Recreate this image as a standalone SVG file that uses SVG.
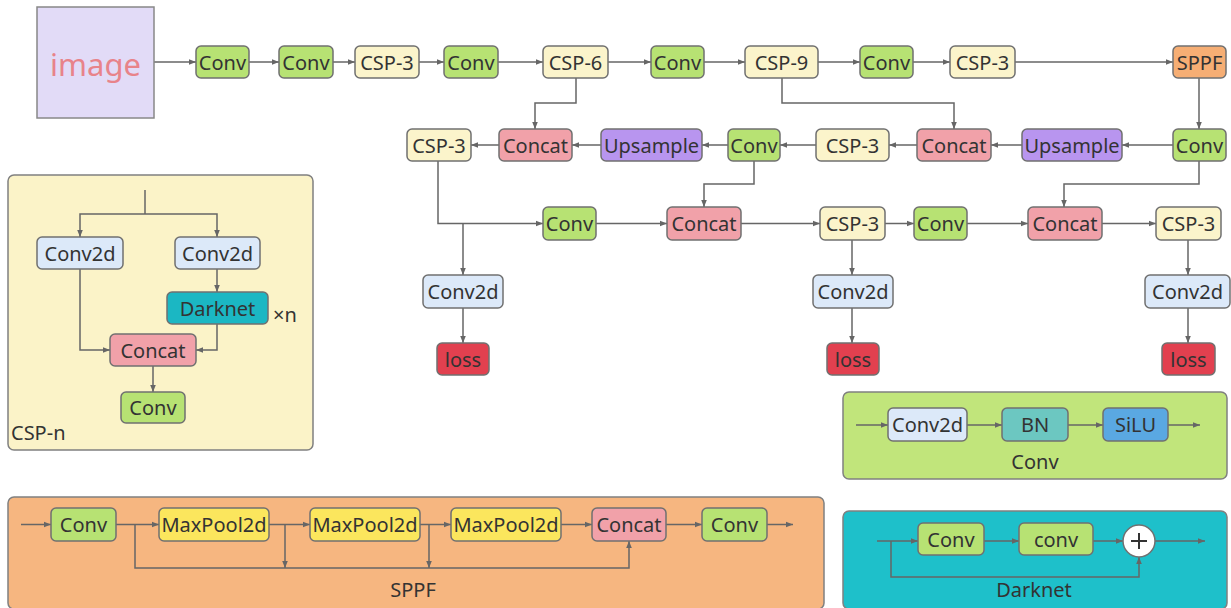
<svg xmlns="http://www.w3.org/2000/svg" width="1231" height="608" viewBox="0 0 1231 608">
  <defs>
    <marker id="arr" viewBox="0 0 10 10" refX="10" refY="5" markerWidth="7" markerHeight="7" markerUnits="userSpaceOnUse" orient="auto">
      <path d="M0,1 L10,5 L0,9 z" fill="#666"/>
    </marker>
    <style>
      .n rect { stroke: #707070; stroke-width: 1.5; }
      .t { font-family: "Noto Sans", "Open Sans", sans-serif; font-size: 20px; fill: #333; text-anchor: middle; dominant-baseline: central; }
      .lbl { font-family: "Noto Sans", "Open Sans", sans-serif; font-size: 20px; fill: #333; }
      .conv { fill: #b7e273; }
      .csp { fill: #fbf4cb; }
      .cat { fill: #f1a1a9; }
      .up { fill: #b895ef; }
      .sppf { fill: #f6ae74; }
      .c2d { fill: #dce9f9; }
      .loss { fill: #e2404f; }
      .dark { fill: #1bb7c3; }
      .bn { fill: #6cc7c1; }
      .silu { fill: #5aa8e2; }
      .mp { fill: #fbe65d; }
      .edges path, .edges line { stroke: #666; stroke-width: 1.5; fill: none; }
      .panel { stroke: #808080; stroke-width: 1.5; }
    </style>
  </defs>
  <rect width="1231" height="608" fill="#ffffff"/>

  <!-- Sub-module panels -->
  <rect id="panel-csp" class="panel" x="8" y="175" width="305" height="275" rx="6" fill="#fbf3c8"/>
  <rect id="panel-conv" class="panel" x="843" y="392" width="384" height="87" rx="6" fill="#c1e57b"/>
  <rect id="panel-sppf" class="panel" x="8" y="497" width="816" height="112" rx="6" fill="#f6b680"/>
  <rect id="panel-dark" class="panel" x="843" y="511" width="384" height="98" rx="6" fill="#1ec0ca"/>

  <!-- Connectors -->
  <g class="edges">
    <!-- backbone -->
    <line x1="154" y1="62" x2="196" y2="62" marker-end="url(#arr)"/>
    <line x1="249" y1="62" x2="279" y2="62" marker-end="url(#arr)"/>
    <line x1="333" y1="62" x2="355" y2="62" marker-end="url(#arr)"/>
    <line x1="419" y1="62" x2="444" y2="62" marker-end="url(#arr)"/>
    <line x1="498" y1="62" x2="543" y2="62" marker-end="url(#arr)"/>
    <line x1="608" y1="62" x2="651" y2="62" marker-end="url(#arr)"/>
    <line x1="704" y1="62" x2="745" y2="62" marker-end="url(#arr)"/>
    <line x1="818" y1="62" x2="860" y2="62" marker-end="url(#arr)"/>
    <line x1="913" y1="62" x2="950" y2="62" marker-end="url(#arr)"/>
    <line x1="1015" y1="62" x2="1173" y2="62" marker-end="url(#arr)"/>
    <!-- skips from backbone -->
    <path d="M576,78 V103 H535 V129" marker-end="url(#arr)"/>
    <path d="M782,78 V103 H954 V129" marker-end="url(#arr)"/>
    <line x1="1199" y1="78" x2="1199" y2="129" marker-end="url(#arr)"/>
    <!-- top-down path -->
    <line x1="1173" y1="145" x2="1122" y2="145" marker-end="url(#arr)"/>
    <line x1="1022" y1="145" x2="991" y2="145" marker-end="url(#arr)"/>
    <line x1="917" y1="145" x2="889" y2="145" marker-end="url(#arr)"/>
    <line x1="816" y1="145" x2="780" y2="145" marker-end="url(#arr)"/>
    <line x1="728" y1="145" x2="702" y2="145" marker-end="url(#arr)"/>
    <line x1="601" y1="145" x2="572" y2="145" marker-end="url(#arr)"/>
    <line x1="499" y1="145" x2="471" y2="145" marker-end="url(#arr)"/>
    <!-- bottom-up path -->
    <path d="M438,161 V223.5 H543" marker-end="url(#arr)"/>
    <path d="M463,223.5 V275" marker-end="url(#arr)"/>
    <line x1="596" y1="223.5" x2="667" y2="223.5" marker-end="url(#arr)"/>
    <path d="M754,161 V184 H704 V207" marker-end="url(#arr)"/>
    <line x1="741" y1="223.5" x2="820" y2="223.5" marker-end="url(#arr)"/>
    <line x1="885" y1="223.5" x2="914" y2="223.5" marker-end="url(#arr)"/>
    <line x1="967" y1="223.5" x2="1028" y2="223.5" marker-end="url(#arr)"/>
    <path d="M1199,161 V184 H1064 V207" marker-end="url(#arr)"/>
    <line x1="1102" y1="223.5" x2="1156" y2="223.5" marker-end="url(#arr)"/>
    <!-- heads -->
    <line x1="463" y1="308" x2="463" y2="343" marker-end="url(#arr)"/>
    <line x1="852" y1="240" x2="852" y2="275" marker-end="url(#arr)"/>
    <line x1="852" y1="308" x2="852" y2="343" marker-end="url(#arr)"/>
    <line x1="1188" y1="240" x2="1188" y2="275" marker-end="url(#arr)"/>
    <line x1="1188" y1="308" x2="1188" y2="343" marker-end="url(#arr)"/>
    <!-- CSP-n internals -->
    <path d="M145,190 V214"/>
    <path d="M145,214 H80 V237" marker-end="url(#arr)"/>
    <path d="M145,214 H217 V237" marker-end="url(#arr)"/>
    <line x1="217" y1="269" x2="217" y2="292" marker-end="url(#arr)"/>
    <path d="M80,269 V350 H110" marker-end="url(#arr)"/>
    <path d="M217,324 V350 H196" marker-end="url(#arr)"/>
    <line x1="153" y1="366" x2="153" y2="392" marker-end="url(#arr)"/>
    <!-- Conv internals -->
    <line x1="856" y1="425" x2="888" y2="425" marker-end="url(#arr)"/>
    <line x1="967" y1="425" x2="1002" y2="425" marker-end="url(#arr)"/>
    <line x1="1068" y1="425" x2="1103" y2="425" marker-end="url(#arr)"/>
    <line x1="1168" y1="425" x2="1200" y2="425" marker-end="url(#arr)"/>
    <!-- SPPF internals -->
    <line x1="21" y1="524.5" x2="51" y2="524.5" marker-end="url(#arr)"/>
    <line x1="116" y1="524.5" x2="159" y2="524.5" marker-end="url(#arr)"/>
    <line x1="269" y1="524.5" x2="310" y2="524.5" marker-end="url(#arr)"/>
    <line x1="420" y1="524.5" x2="451" y2="524.5" marker-end="url(#arr)"/>
    <line x1="561" y1="524.5" x2="592" y2="524.5" marker-end="url(#arr)"/>
    <line x1="666" y1="524.5" x2="702" y2="524.5" marker-end="url(#arr)"/>
    <line x1="767" y1="524.5" x2="793" y2="524.5" marker-end="url(#arr)"/>
    <path d="M135,524.5 V568 H629 V541" marker-end="url(#arr)"/>
    <line x1="285" y1="524.5" x2="285" y2="568" marker-end="url(#arr)"/>
    <line x1="429" y1="524.5" x2="429" y2="568" marker-end="url(#arr)"/>
    <!-- Darknet internals -->
    <line x1="877" y1="541" x2="918" y2="541" marker-end="url(#arr)"/>
    <line x1="984" y1="541" x2="1019" y2="541" marker-end="url(#arr)"/>
    <line x1="1093" y1="541" x2="1123" y2="541" marker-end="url(#arr)"/>
    <line x1="1155" y1="541" x2="1205" y2="541" marker-end="url(#arr)"/>
    <path d="M891,541 V577 H1139 V557" marker-end="url(#arr)"/>
  </g>

  <!-- Input -->
  <g id="image" class="n">
    <rect x="37" y="7" width="117" height="111" fill="#e2dbf7" style="stroke:#888"/>
    <text x="95.5" y="64" style="font-family:'Noto Sans','Open Sans',sans-serif;font-size:31px;fill:#e8838a;text-anchor:middle;dominant-baseline:central">image</text>
  </g>

  <!-- Backbone -->
  <g id="b-conv1" class="n"><rect class="conv" x="196" y="46" width="53" height="32" rx="5"/><text class="t" x="222.5" y="62">Conv</text></g>
  <g id="b-conv2" class="n"><rect class="conv" x="279" y="46" width="54" height="32" rx="5"/><text class="t" x="306" y="62">Conv</text></g>
  <g id="b-csp3a" class="n"><rect class="csp" x="355" y="46" width="64" height="32" rx="5"/><text class="t" x="387" y="62">CSP-3</text></g>
  <g id="b-conv3" class="n"><rect class="conv" x="444" y="46" width="54" height="32" rx="5"/><text class="t" x="471" y="62">Conv</text></g>
  <g id="b-csp6" class="n"><rect class="csp" x="543" y="46" width="65" height="32" rx="5"/><text class="t" x="575.5" y="62">CSP-6</text></g>
  <g id="b-conv4" class="n"><rect class="conv" x="651" y="46" width="53" height="32" rx="5"/><text class="t" x="677.5" y="62">Conv</text></g>
  <g id="b-csp9" class="n"><rect class="csp" x="745" y="46" width="73" height="32" rx="5"/><text class="t" x="781.5" y="62">CSP-9</text></g>
  <g id="b-conv5" class="n"><rect class="conv" x="860" y="46" width="53" height="32" rx="5"/><text class="t" x="886.5" y="62">Conv</text></g>
  <g id="b-csp3b" class="n"><rect class="csp" x="950" y="46" width="65" height="32" rx="5"/><text class="t" x="982.5" y="62">CSP-3</text></g>
  <g id="b-sppf" class="n"><rect class="sppf" x="1173" y="46" width="53" height="32" rx="5"/><text class="t" x="1199.5" y="62">SPPF</text></g>

  <!-- Top-down neck -->
  <g id="n-conv1" class="n"><rect class="conv" x="1173" y="129" width="53" height="32" rx="5"/><text class="t" x="1199.5" y="145">Conv</text></g>
  <g id="n-up1" class="n"><rect class="up" x="1022" y="129" width="100" height="32" rx="5"/><text class="t" x="1072" y="145">Upsample</text></g>
  <g id="n-cat1" class="n"><rect class="cat" x="917" y="129" width="74" height="32" rx="5"/><text class="t" x="954" y="145">Concat</text></g>
  <g id="n-csp1" class="n"><rect class="csp" x="816" y="129" width="73" height="32" rx="5"/><text class="t" x="852.5" y="145">CSP-3</text></g>
  <g id="n-conv2" class="n"><rect class="conv" x="728" y="129" width="52" height="32" rx="5"/><text class="t" x="754" y="145">Conv</text></g>
  <g id="n-up2" class="n"><rect class="up" x="601" y="129" width="101" height="32" rx="5"/><text class="t" x="651.5" y="145">Upsample</text></g>
  <g id="n-cat2" class="n"><rect class="cat" x="499" y="129" width="73" height="32" rx="5"/><text class="t" x="535.5" y="145">Concat</text></g>
  <g id="n-csp2" class="n"><rect class="csp" x="407" y="129" width="64" height="32" rx="5"/><text class="t" x="439" y="145">CSP-3</text></g>

  <!-- Bottom-up neck -->
  <g id="p-conv1" class="n"><rect class="conv" x="543" y="207" width="53" height="33" rx="5"/><text class="t" x="569.5" y="223.5">Conv</text></g>
  <g id="p-cat1" class="n"><rect class="cat" x="667" y="207" width="74" height="33" rx="5"/><text class="t" x="704" y="223.5">Concat</text></g>
  <g id="p-csp1" class="n"><rect class="csp" x="820" y="207" width="65" height="33" rx="5"/><text class="t" x="852.5" y="223.5">CSP-3</text></g>
  <g id="p-conv2" class="n"><rect class="conv" x="914" y="207" width="53" height="33" rx="5"/><text class="t" x="940.5" y="223.5">Conv</text></g>
  <g id="p-cat2" class="n"><rect class="cat" x="1028" y="207" width="74" height="33" rx="5"/><text class="t" x="1065" y="223.5">Concat</text></g>
  <g id="p-csp2" class="n"><rect class="csp" x="1156" y="207" width="65" height="33" rx="5"/><text class="t" x="1188.5" y="223.5">CSP-3</text></g>

  <!-- Heads -->
  <g id="h1-conv2d" class="n"><rect class="c2d" x="423" y="275" width="80" height="33" rx="5"/><text class="t" x="463" y="291.5">Conv2d</text></g>
  <g id="h1-loss" class="n"><rect class="loss" x="437" y="343" width="52" height="32" rx="5"/><text class="t" x="463" y="359">loss</text></g>
  <g id="h2-conv2d" class="n"><rect class="c2d" x="813" y="275" width="80" height="33" rx="5"/><text class="t" x="853" y="291.5">Conv2d</text></g>
  <g id="h2-loss" class="n"><rect class="loss" x="827" y="343" width="52" height="32" rx="5"/><text class="t" x="853" y="359">loss</text></g>
  <g id="h3-conv2d" class="n"><rect class="c2d" x="1145" y="275" width="85" height="33" rx="5"/><text class="t" x="1187.5" y="291.5">Conv2d</text></g>
  <g id="h3-loss" class="n"><rect class="loss" x="1162" y="343" width="53" height="32" rx="5"/><text class="t" x="1188.5" y="359">loss</text></g>

  <!-- CSP-n block -->
  <g id="csp-conv2d-l" class="n"><rect class="c2d" x="37" y="237" width="86" height="32" rx="5"/><text class="t" x="80" y="253">Conv2d</text></g>
  <g id="csp-conv2d-r" class="n"><rect class="c2d" x="175" y="237" width="85" height="32" rx="5"/><text class="t" x="217.5" y="253">Conv2d</text></g>
  <g id="csp-darknet" class="n"><rect class="dark" x="167" y="292" width="101" height="32" rx="5"/><text class="t" x="217.5" y="308">Darknet</text></g>
  <g id="csp-concat" class="n"><rect class="cat" x="110" y="334" width="86" height="32" rx="5"/><text class="t" x="153" y="350">Concat</text></g>
  <g id="csp-conv" class="n"><rect class="conv" x="121" y="392" width="64" height="31" rx="5"/><text class="t" x="153" y="407.5">Conv</text></g>
  <text class="lbl" x="273" y="322">×n</text>
  <text class="lbl" x="11" y="440">CSP-n</text>

  <!-- Conv block -->
  <g id="cv-conv2d" class="n"><rect class="c2d" x="888" y="408" width="79" height="33" rx="5"/><text class="t" x="927.5" y="424.5">Conv2d</text></g>
  <g id="cv-bn" class="n"><rect class="bn" x="1002" y="408" width="66" height="33" rx="5"/><text class="t" x="1035" y="424.5">BN</text></g>
  <g id="cv-silu" class="n"><rect class="silu" x="1103" y="408" width="65" height="33" rx="5"/><text class="t" x="1135.5" y="424.5">SiLU</text></g>
  <text class="t" x="1035" y="461">Conv</text>

  <!-- SPPF block -->
  <g id="sp-conv1" class="n"><rect class="conv" x="51" y="508" width="65" height="33" rx="5"/><text class="t" x="83.5" y="524.5">Conv</text></g>
  <g id="sp-mp1" class="n"><rect class="mp" x="159" y="508" width="110" height="33" rx="5"/><text class="t" x="214" y="524.5">MaxPool2d</text></g>
  <g id="sp-mp2" class="n"><rect class="mp" x="310" y="508" width="110" height="33" rx="5"/><text class="t" x="365" y="524.5">MaxPool2d</text></g>
  <g id="sp-mp3" class="n"><rect class="mp" x="451" y="508" width="110" height="33" rx="5"/><text class="t" x="506" y="524.5">MaxPool2d</text></g>
  <g id="sp-concat" class="n"><rect class="cat" x="592" y="508" width="74" height="33" rx="5"/><text class="t" x="629" y="524.5">Concat</text></g>
  <g id="sp-conv2" class="n"><rect class="conv" x="702" y="508" width="65" height="33" rx="5"/><text class="t" x="734.5" y="524.5">Conv</text></g>
  <text class="t" x="413" y="589">SPPF</text>

  <!-- Darknet block -->
  <g id="dk-conv1" class="n"><rect class="conv" x="918" y="523" width="66" height="32" rx="5"/><text class="t" x="951" y="539">Conv</text></g>
  <g id="dk-conv2" class="n"><rect class="conv" x="1019" y="523" width="74" height="32" rx="5"/><text class="t" x="1056" y="539">conv</text></g>
  <g id="dk-add">
    <circle cx="1139" cy="541" r="16" fill="#ffffff" stroke="#707070" stroke-width="1.5"/>
    <path d="M1131,541 H1147 M1139,533 V549" stroke="#333" stroke-width="2"/>
  </g>
  <text class="t" x="1034" y="589">Darknet</text>
</svg>
